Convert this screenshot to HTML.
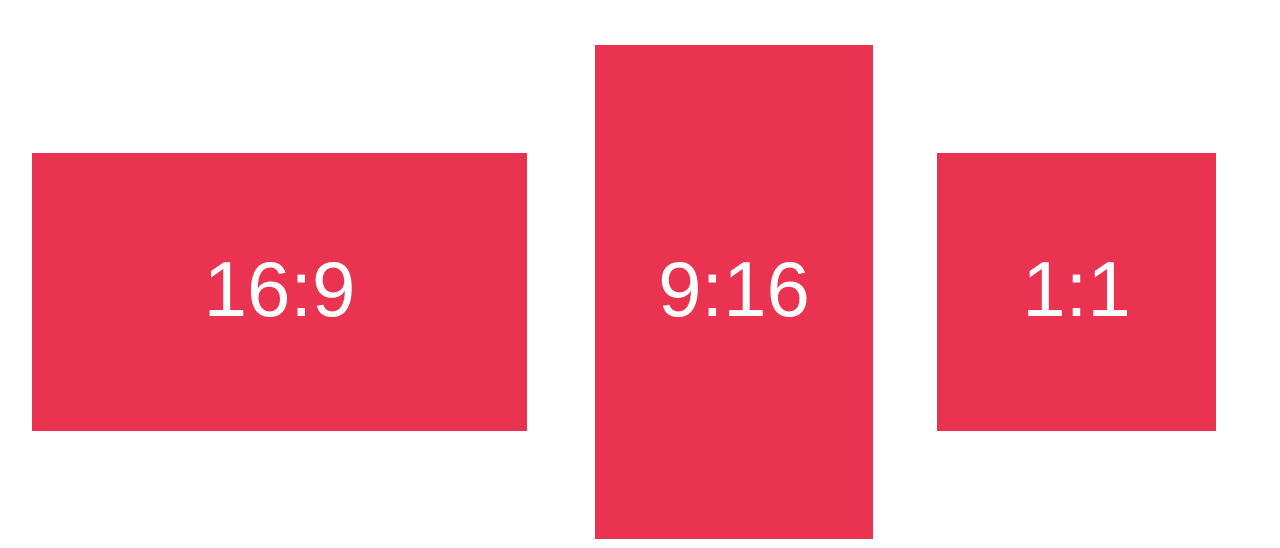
<!DOCTYPE html>
<html>
<head>
<meta charset="utf-8">
<style>
  html,body{margin:0;padding:0;background:#fff;}
  body{width:1280px;height:548px;position:relative;overflow:hidden;font-family:"Liberation Sans",sans-serif;}
  .box{position:absolute;background:#EA3350;color:#fff;display:flex;align-items:center;justify-content:center;font-size:78px;line-height:1;}
  .box span{position:relative;top:-3px;}
</style>
</head>
<body>
  <div class="box" style="left:32px;top:153px;width:495px;height:278px;"><span>16:9</span></div>
  <div class="box" style="left:595px;top:45px;width:278px;height:494px;"><span>9:16</span></div>
  <div class="box" style="left:937px;top:153px;width:279px;height:278px;"><span>1:1</span></div>
</body>
</html>
